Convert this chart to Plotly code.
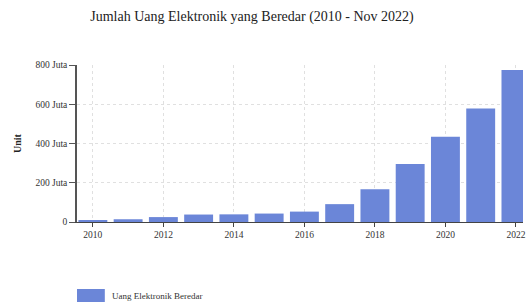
import plotly.graph_objects as go

years = [2010, 2011, 2012, 2013, 2014, 2015, 2016, 2017, 2018, 2019, 2020, 2021, 2022]
values_juta = [10, 14, 25, 38, 39, 43, 53, 91, 167, 295, 434, 578, 774]
series_name = "Uang Elektronik Beredar"
y_tick_vals = [0, 200, 400, 600, 800]
y_tick_text = ["0", "200 Juta", "400 Juta", "600 Juta", "800 Juta"]
x_tick_vals = [2010, 2012, 2014, 2016, 2018, 2020, 2022]

bar_color = "#6b86d8"
serif = "Liberation Serif, DejaVu Serif, serif"

W, H = 526, 304
L, R, T, B = 77, 0, 65, 82
PW, PH = W - L - R, H - T - B

fig = go.Figure()
fig.add_trace(go.Bar(x=years, y=values_juta, name=series_name,
                     marker=dict(color=bar_color, line=dict(width=0)),
                     showlegend=False))

fig.update_layout(
    width=W, height=H,
    margin=dict(l=L, r=R, t=T, b=B),
    paper_bgcolor="white", plot_bgcolor="white",
    bargap=0.18,
    title=dict(text="Jumlah Uang Elektronik yang Beredar (2010 - Nov 2022)",
               xref="container", x=252 / W, xanchor="center",
               yref="container", y=1 - 16 / H, yanchor="middle",
               font=dict(family=serif, size=14, color="#222")),
    font=dict(family=serif, size=9, color="#333"),
)
fig.update_xaxes(range=[2009.55, 2022.2], tickvals=x_tick_vals,
                 ticklabeloverflow="allow",
                 showline=True, linecolor="#444", linewidth=1,
                 ticks="outside", ticklen=4, tickcolor="#444",
                 showgrid=True, gridcolor="#e0e0e0", griddash="dot", gridwidth=1,
                 tickfont=dict(family=serif, size=9.5, color="#333"), zeroline=False)
fig.update_yaxes(range=[0, 800], tickvals=y_tick_vals, ticktext=y_tick_text,
                 showline=True, linecolor="#555", linewidth=1.5,
                 ticks="outside", ticklen=6, tickcolor="#555",
                 showgrid=True, gridcolor="#e0e0e0", griddash="dot", gridwidth=1,
                 zeroline=False,
                 tickfont=dict(family=serif, size=9.5, color="#333"),
                 title=dict(text="<b>Unit</b>", standoff=12,
                            font=dict(family=serif, size=10, color="#222")))

# legend swatch and label (below the plot area)
fig.add_shape(type="rect", xref="paper", yref="paper",
              x0=0, x1=28 / PW, y0=-80 / PH, y1=-67 / PH,
              fillcolor=bar_color, line=dict(width=0))
fig.add_annotation(xref="paper", yref="paper", x=33 / PW, y=-73.5 / PH,
                   xanchor="left", yanchor="middle", showarrow=False,
                   text=series_name, font=dict(family=serif, size=9, color="#333"))

fig.write_html(
    "out.html",
    config={"displayModeBar": False},
    post_script="document.body.style.margin='0';document.body.style.overflow='hidden';",
)
